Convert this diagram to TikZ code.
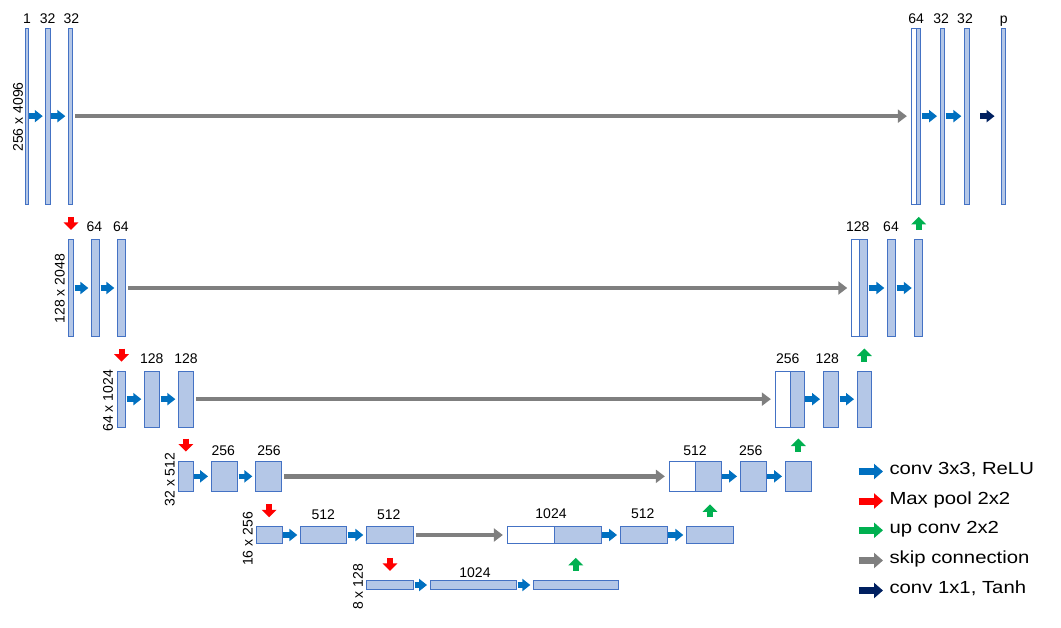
\documentclass[tikz,border=0pt]{standalone}
\usepackage{fontspec}
\setmainfont{Liberation Sans}
\usetikzlibrary{arrows.meta,fit}
\definecolor{barfill}{HTML}{B4C7E7}
\definecolor{barline}{HTML}{4472C4}
\definecolor{convblue}{HTML}{0070C0}
\definecolor{poolred}{HTML}{FF0000}
\definecolor{upgreen}{HTML}{00B050}
\definecolor{skipgray}{HTML}{7F7F7F}
\definecolor{tanhnavy}{HTML}{002060}
\begin{document}
\begin{tikzpicture}[x=1pt,y=-1pt,
  bar/.style={draw=barline,fill=barfill,line width=0.9pt,inner sep=0pt},
  wbar/.style={draw=barline,fill=white,line width=0.9pt,inner sep=0pt},
  numlab/.style={anchor=base,inner sep=0pt,font=\fontsize{14}{16}\selectfont},
  dimlab/.style={anchor=south,rotate=90,inner sep=0pt,font=\fontsize{14}{16}\selectfont},
  legtext/.style={anchor=base west,inner sep=0pt,xscale=1.16,font=\fontsize{17.5}{20}\selectfont},
  flow/.style={line width=5.5pt,-{Triangle[length=8pt,width=12pt]}},
  convarrow/.style={flow,draw=convblue,shorten <=0.5pt,shorten >=2.5pt},
  finalarrow/.style={flow,draw=tanhnavy,shorten <=10.5pt,shorten >=6pt},
  skipconn/.style={draw=skipgray,line width=4.5pt,-{Triangle[length=9pt,width=13pt]},shorten <=2pt,shorten >=4pt},
  vmark/.style={line width=6pt,-{Triangle[length=7.5pt,width=14.5pt]}},
  maxpool/.style={vmark,draw=poolred},
  upconv/.style={vmark,draw=upgreen},
  legarrow/.style={line width=7pt,-{Triangle[length=9pt,width=15pt]}},
]
\useasboundingbox (0,0) rectangle (1061,627);

% ---------- level 1 ----------
\node[bar,fit={(25.5,28.3) (28,204)}] (e1a) {};
\node[bar,fit={(45.7,28.3) (50.3,204)}] (e1b) {};
\node[bar,fit={(68.3,28.3) (72.7,204)}] (e1c) {};
\node[wbar,fit={(911.3,28.3) (916,204)}] (d1w) {};
\node[bar,fit={(916,28.3) (920.7,204)}] (d1f) {};
\node[bar,fit={(940,28.3) (944.7,204)}] (d1b) {};
\node[bar,fit={(964.3,28.3) (969.3,204)}] (d1c) {};
\node[bar,fit={(1001,28.3) (1005.7,204)}] (out) {};

% ---------- level 2 ----------
\node[bar,fit={(68.3,239.3) (73.7,336.7)}] (e2a) {};
\node[bar,fit={(91.3,239.3) (99.7,336.7)}] (e2b) {};
\node[bar,fit={(117.3,239.3) (125.7,336.7)}] (e2c) {};
\node[wbar,fit={(851.7,239.3) (859.3,336.7)}] (d2w) {};
\node[bar,fit={(859.3,239.3) (867.7,336.7)}] (d2f) {};
\node[bar,fit={(887.3,239.3) (895.7,336.7)}] (d2b) {};
\node[bar,fit={(914.7,239.3) (922.7,336.7)}] (d2c) {};

% ---------- level 3 ----------
\node[bar,fit={(117.3,371) (125.7,427.3)}] (e3a) {};
\node[bar,fit={(144.3,371) (159.7,427.3)}] (e3b) {};
\node[bar,fit={(178.3,371) (193.7,427.3)}] (e3c) {};
\node[wbar,fit={(775.3,371) (790,427.3)}] (d3w) {};
\node[bar,fit={(790,371) (804.3,427.3)}] (d3f) {};
\node[bar,fit={(823,371) (838.7,427.3)}] (d3b) {};
\node[bar,fit={(857,371) (871.7,427.3)}] (d3c) {};

% ---------- level 4 ----------
\node[bar,fit={(178.3,461) (193.3,491.7)}] (e4a) {};
\node[bar,fit={(211,461) (237.7,491.7)}] (e4b) {};
\node[bar,fit={(255.3,461) (281.7,491.7)}] (e4c) {};
\node[wbar,fit={(669.3,461) (695.3,491.7)}] (d4w) {};
\node[bar,fit={(695.3,461) (721.3,491.7)}] (d4f) {};
\node[bar,fit={(740,461) (766.3,491.7)}] (d4b) {};
\node[bar,fit={(785,461) (811.7,491.7)}] (d4c) {};

% ---------- level 5 ----------
\node[bar,fit={(256,526.7) (282.3,543.3)}] (e5a) {};
\node[bar,fit={(300.3,526.7) (346.7,543.3)}] (e5b) {};
\node[bar,fit={(366.3,526.7) (413.3,543.3)}] (e5c) {};
\node[wbar,fit={(507.3,526.7) (554.3,543.3)}] (d5w) {};
\node[bar,fit={(554.3,526.7) (601,543.3)}] (d5f) {};
\node[bar,fit={(620,526.7) (667,543.3)}] (d5b) {};
\node[bar,fit={(686.3,526.7) (733.7,543.3)}] (d5c) {};

% ---------- level 6 ----------
\node[bar,fit={(366.3,580.3) (413.7,589.7)}] (b6a) {};
\node[bar,fit={(430,580.3) (516.7,589.7)}] (b6b) {};
\node[bar,fit={(533.3,580.3) (618.3,589.7)}] (b6c) {};

% ---------- size labels ----------
\node[numlab] (t1a) at (27,23.5) {1};
\node[numlab] (t1b) at (47.7,23.5) {32};
\node[numlab] (t1c) at (71.3,23.5) {32};
\node[numlab] (t1d) at (916.2,23.5) {64};
\node[numlab] (t1e) at (941.2,23.5) {32};
\node[numlab] (t1f) at (965,23.5) {32};
\node[numlab] (t1g) at (1003.7,23.5) {p};

\node[numlab] (t2a) at (94.3,231.7) {64};
\node[numlab] (t2b) at (121,231.7) {64};
\node[numlab] (t2c) at (857.7,231.7) {128};
\node[numlab] (t2d) at (891,231.7) {64};

\node[numlab] (t3a) at (151.7,363.5) {128};
\node[numlab] (t3b) at (186,363.5) {128};
\node[numlab] (t3c) at (787.7,363.5) {256};
\node[numlab] (t3d) at (827.3,363.5) {128};

\node[numlab] (t4a) at (223.3,455.5) {256};
\node[numlab] (t4b) at (269,455.5) {256};
\node[numlab] (t4c) at (695,455.5) {512};
\node[numlab] (t4d) at (750.7,455.5) {256};

\node[numlab] (t5a) at (323.3,519) {512};
\node[numlab] (t5b) at (388.7,519) {512};
\node[numlab] (t5c) at (551,518.5) {1024};
\node[numlab] (t5d) at (642.7,518.5) {512};

\node[numlab] (t6a) at (475,577) {1024};

% ---------- resolution labels ----------
\node[dimlab] (r1) at (23.3,117) {256 x 4096};
\node[dimlab] (r2) at (65,288.7) {128 x 2048};
\node[dimlab] (r3) at (113.3,400.7) {64 x 1024};
\node[dimlab] (r4) at (175,479.5) {32 x 512};
\node[dimlab] (r5) at (253,539) {16 x 256};
\node[dimlab] (r6) at (363.3,587) {8 x 128};

% ---------- conv arrows ----------
\draw[convarrow] (e1a.east) -- (e1b.west);
\draw[convarrow] (e1b.east) -- (e1c.west);
\draw[convarrow] (d1f.east) -- (d1b.west);
\draw[convarrow] (d1b.east) -- (d1c.west);
\draw[finalarrow] (d1c.east) -- (out.west);

\draw[convarrow] (e2a.east) -- (e2b.west);
\draw[convarrow] (e2b.east) -- (e2c.west);
\draw[convarrow] (d2f.east) -- (d2b.west);
\draw[convarrow] (d2b.east) -- (d2c.west);

\draw[convarrow] (e3a.east) -- (e3b.west);
\draw[convarrow] (e3b.east) -- (e3c.west);
\draw[convarrow] (d3f.east) -- (d3b.west);
\draw[convarrow] (d3b.east) -- (d3c.west);

\draw[convarrow] (e4a.east) -- (e4b.west);
\draw[convarrow] (e4b.east) -- (e4c.west);
\draw[convarrow] (d4f.east) -- (d4b.west);
\draw[convarrow] (d4b.east) -- (d4c.west);

\draw[convarrow] (e5a.east) -- (e5b.west);
\draw[convarrow] (e5b.east) -- (e5c.west);
\draw[convarrow] (d5f.east) -- (d5b.west);
\draw[convarrow] (d5b.east) -- (d5c.west);

\draw[convarrow] (b6a.east) -- (b6b.west);
\draw[convarrow] (b6b.east) -- (b6c.west);

% ---------- skip connections ----------
\draw[skipconn] (e1c.east) -- (d1w.west);
\draw[skipconn] (e2c.east) -- (d2w.west);
\draw[skipconn] (e3c.east) -- (d3w.west);
\draw[skipconn] (e4c.east) -- (d4w.west);
\draw[skipconn] (e5c.east) -- (d5w.west);

% ---------- max pool / up conv marks ----------
\draw[maxpool] ([yshift=22pt]e2a.north) -- ([yshift=9pt]e2a.north);
\draw[maxpool] ([yshift=22pt]e3a.north) -- ([yshift=9pt]e3a.north);
\draw[maxpool] ([yshift=22pt]e4a.north) -- ([yshift=9pt]e4a.north);
\draw[maxpool] ([yshift=22pt]e5a.north) -- ([yshift=9pt]e5a.north);
\draw[maxpool] ([yshift=22pt]b6a.north) -- ([yshift=9pt]b6a.north);

\draw[upconv] ([yshift=9pt]d2c.north) -- ([yshift=22pt]d2c.north);
\draw[upconv] ([yshift=9pt]d3c.north) -- ([yshift=22pt]d3c.north);
\draw[upconv] ([yshift=9pt]d4c.north) -- ([yshift=22pt]d4c.north);
\draw[upconv] ([yshift=9pt]d5c.north) -- ([yshift=22pt]d5c.north);
\draw[upconv] ([yshift=9pt]b6c.north) -- ([yshift=22pt]b6c.north);

% ---------- legend ----------
\coordinate (lg1s) at (858.5,471.5); \coordinate (lg1e) at (883,471.5);
\coordinate (lg2s) at (858.5,501);   \coordinate (lg2e) at (883,501);
\coordinate (lg3s) at (858.5,530.3); \coordinate (lg3e) at (883,530.3);
\coordinate (lg4s) at (858.5,560.5); \coordinate (lg4e) at (883,560.5);
\coordinate (lg5s) at (858.5,590.5); \coordinate (lg5e) at (883,590.5);
\draw[legarrow,draw=convblue] (lg1s) -- (lg1e);
\draw[legarrow,draw=poolred] (lg2s) -- (lg2e);
\draw[legarrow,draw=upgreen] (lg3s) -- (lg3e);
\draw[legarrow,draw=skipgray] (lg4s) -- (lg4e);
\draw[legarrow,draw=tanhnavy] (lg5s) -- (lg5e);
\node[legtext] (l1) at (889.3,474.8) {conv 3x3, ReLU};
\node[legtext] (l2) at (889.3,504.3) {Max pool 2x2};
\node[legtext] (l3) at (889.3,533.6) {up conv 2x2};
\node[legtext] (l4) at (889.3,563.8) {skip connection};
\node[legtext] (l5) at (889.3,593.8) {conv 1x1, Tanh};
\end{tikzpicture}
\end{document}
